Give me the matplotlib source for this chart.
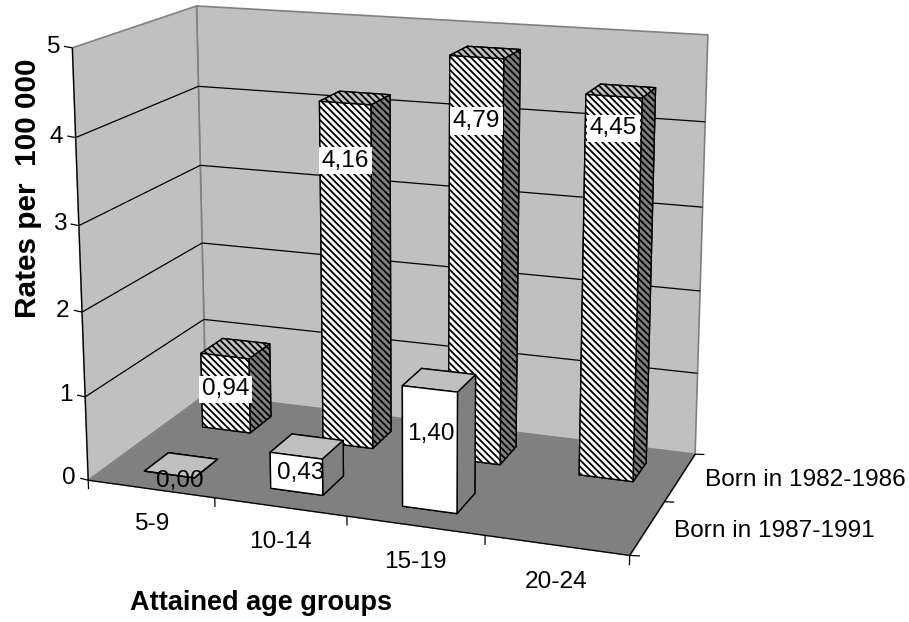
import numpy as np
import matplotlib
matplotlib.use('Agg')
import matplotlib.pyplot as plt
from mpl_toolkits.mplot3d.art3d import Poly3DCollection, Line3DCollection

plt.rcParams['font.family'] = ['Liberation Sans', 'DejaVu Sans']
plt.rcParams['hatch.linewidth'] = 1.3

# data
age_groups = ['5-9', '10-14', '15-19', '20-24']
cohorts = ['Born in 1987-1991', 'Born in 1982-1986']
rates_1987 = [0.00, 0.43, 1.40]
rates_1982 = [0.94, 4.16, 4.79, 4.45]
labels_1987 = ['0,00', '0,43', '1,40']
labels_1982 = ['0,94', '4,16', '4,79', '4,45']
value_ticks = [0, 1, 2, 3, 4, 5]

W, H = 909, 622

cal_world = [(0, 0, 0), (1, 0, 0), (2, 0, 0), (3, 0, 0), (4, 0, 0), (4, 1, 0), (4, 2, 0), (0, 2, 0),
             (0, 0, 5), (0, 0, 4), (0, 0, 1), (0, 2, 5), (0, 2, 4), (0, 2, 3), (4, 2, 5)]
cal_pixel = [(88, 479), (215, 498), (347, 517), (485, 535), (630, 556), (664, 502), (695, 453), (206, 396),
             (72, 48), (76, 138), (85, 396), (197, 6), (198, 86), (200, 165), (708, 35)]

rows = []
rhs = []
for (a, b, c), (px, py) in zip(cal_world, cal_pixel):
    v = H - py
    rows.append([a, b, c, 1, 0, 0, 0, 0, -px * a, -px * b, -px * c])
    rows.append([0, 0, 0, 0, a, b, c, 1, -v * a, -v * b, -v * c])
    rhs += [px, v]
sol = np.linalg.lstsq(np.array(rows, dtype=float), np.array(rhs, dtype=float), rcond=None)[0]
P = np.append(sol, 1.0).reshape(3, 4)
M = np.array([P[0], P[1], [0, 0, 0, -1], P[2]])

fig = plt.figure(figsize=(W / 100, H / 100), dpi=100)
# Axes3D keeps a square box, so make it as wide as the figure
side_pad = (W - H) / 2
ax = fig.add_axes([0, -side_pad / H, 1, W / H], projection='3d')
ax.set_axis_off()
ax.set_xticks([])
ax.set_yticks([])
ax.set_zticks([])
ax.patch.set_visible(False)
ax.computed_zorder = False
ax.get_proj = lambda: M


def label3d(x, y, z, s, **kw):
    # plain 2d text at the projected point
    u, v, w = P @ np.array([x, y, z, 1.0])
    ax.text2D(u / w, v / w, s, transform=ax.transData, va='center', fontsize=fs, **kw)


nx = len(age_groups)
ny = len(cohorts)
top = max(value_ticks)

# walls and floor
back_wall = [(0, ny, 0), (nx, ny, 0), (nx, ny, top), (0, ny, top)]
left_wall = [(0, 0, 0), (0, ny, 0), (0, ny, top), (0, 0, top)]
floor = [(0, 0, 0), (nx, 0, 0), (nx, ny, 0), (0, ny, 0)]
ax.add_collection3d(Poly3DCollection([back_wall, left_wall], facecolor='#c0c0c0', edgecolor='#808080', linewidth=1.2, zorder=1))
ax.add_collection3d(Poly3DCollection([floor], facecolor='#808080', edgecolor='#808080', linewidth=0.5, zorder=2))

# gridlines, axis lines and ticks as 3d segments
segs = []
for t in value_ticks[1:-1]:
    segs.append([(0, 0, t), (0, ny, t)])
    segs.append([(0, ny, t), (nx, ny, t)])
segs.append([(0, 0, 0), (0, 0, top)])
segs.append([(0, 0, 0), (nx, 0, 0)])
segs.append([(nx, 0, 0), (nx, ny, 0)])
for t in value_ticks:
    segs.append([(-0.065, 0, t + 0.01), (0, 0, t)])
for i in range(nx + 1):
    segs.append([(i, 0, 0), (i, 0, -0.11)])
for j in range(ny + 1):
    segs.append([(nx, j, 0), (nx + 0.07, j, 0.01)])
ax.add_collection3d(Line3DCollection(segs, colors='black', linewidths=0.9, zorder=3))

# tick labels
fs = 17.6
for t in value_ticks:
    label3d(-0.1, 0, t, str(t), ha='right', zorder=20)
for i, name in enumerate(age_groups):
    label3d(i + 0.5, 0, -0.42, name, ha='center', zorder=20)
for j, name in enumerate(cohorts):
    label3d(nx + 0.18, j + 0.5, 0, name, ha='left', zorder=20)

# bars
bar_w = 0.4
bar_start = 0.3
# faces in bar3d order: bottom, top, front, back, left, right
bar_colors = ['#c0c0c0', '#c0c0c0', 'white', '#808080', '#808080', '#808080']

for i, r in enumerate(rates_1982):
    ax.bar3d(i + bar_start, 1 + bar_start, 0, bar_w, bar_w, r, color=bar_colors, shade=False,
             edgecolor='black', linewidth=1.0, hatch='\\' * 5, zorder=5 + i)
for i, r in enumerate(rates_1987):
    ax.bar3d(i + bar_start, bar_start, 0, bar_w, bar_w, r, color=bar_colors, shade=False,
             edgecolor='black', linewidth=1.0, zorder=10 + i)

# data labels, height on the bar
label_z_1982 = [0.52, 3.48, 4.06, 4.09]
label_z_1987 = [-0.06, 0.225, 0.88]
label_dx_1987 = [0.08, 0.03, 0.01]
for i, s in enumerate(labels_1982):
    label3d(i + bar_start + bar_w / 2, 1 + bar_start, label_z_1982[i], s, ha='center',
            zorder=21, bbox=dict(facecolor='white', edgecolor='none', pad=2))
for i, s in enumerate(labels_1987):
    label3d(i + bar_start + bar_w / 2 + label_dx_1987[i], bar_start, label_z_1987[i], s, ha='center', zorder=21)

fig.text(28 / W, 1 - 188 / H, 'Rates per  100 000', rotation=90, ha='center', va='center', fontsize=21.4, fontweight='bold')
fig.text(261 / W, 1 - 603 / H, 'Attained age groups', ha='center', va='center', fontsize=19.5, fontweight='bold')

ax.viewLim.intervalx = (0, W)
ax.viewLim.intervaly = (-side_pad, H + side_pad)

fig.savefig('out.png', dpi=100)
